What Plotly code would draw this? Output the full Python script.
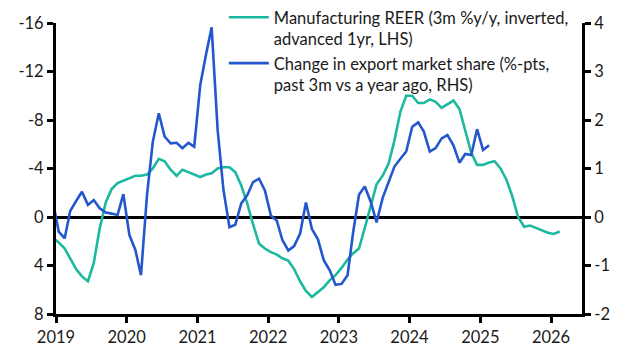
import pandas as pd
import plotly.graph_objects as go

# Monthly (mid-month) observations
reer_start = "2018-12-15"
reer_values = [
    1.7, 2.1, 2.6, 3.4, 4.3, 4.9, 5.3, 3.8, 0.9, -1.2, -2.3, -2.8, -3.0,
    -3.2, -3.4, -3.4, -3.5, -4.0, -4.8, -4.6, -3.9, -3.4, -3.9, -3.7, -3.5,
    -3.3, -3.5, -3.6, -4.0, -4.1, -4.1, -3.7, -2.6, -1.1, 0.6, 2.2, 2.6,
    2.9, 3.1, 3.4, 3.6, 4.3, 5.3, 6.1, 6.6, 6.2, 5.8, 5.2, 4.8, 4.2, 3.5,
    3.0, 2.6, 0.9, -1.0, -2.7, -3.4, -4.4, -6.3, -8.7, -10.0, -10.0, -9.4,
    -9.4, -9.7, -9.5, -9.0, -9.3, -9.6, -8.9, -7.1, -5.3, -4.3, -4.3, -4.5,
    -4.6, -4.0, -3.1, -1.7, 0.0, 0.8, 0.7, 0.9, 1.1, 1.3, 1.4, 1.2,
]

share_start = "2018-12-15"
share_values = [
    0.34, -0.3, -0.44, 0.12, 0.33, 0.52, 0.25, 0.35, 0.18, 0.09, 0.07, 0.04,
    0.47, -0.37, -0.68, -1.2, 0.45, 1.55, 2.14, 1.66, 1.52, 1.53, 1.42, 1.53,
    1.45, 2.72, 3.37, 3.91, 1.79, 0.56, -0.21, -0.16, 0.28, 0.45, 0.72, 0.79,
    0.55, 0.03, -0.08, -0.47, -0.69, -0.6, -0.34, 0.3, -0.25, -0.46, -0.89,
    -1.1, -1.4, -1.38, -1.2, -0.34, 0.46, 0.63, 0.31, -0.11, 0.39, 0.71,
    1.04, 1.2, 1.35, 1.86, 1.95, 1.76, 1.35, 1.42, 1.62, 1.69, 1.48, 1.12,
    1.3, 1.28, 1.81, 1.38, 1.48,
]

reer_name = "Manufacturing REER (3m %y/y, inverted,<br>advanced 1yr, LHS)"
share_name = "Change in export market share (%-pts,<br>past 3m vs a year ago, RHS)"

left_ticks = [-16, -12, -8, -4, 0, 4, 8]
left_labels = ["-16", "-12", "-8", "-4", "0", "4", "8"]
right_ticks = [-2, -1, 0, 1, 2, 3, 4]
right_labels = ["-2", "-1", "0", "1", "2", "3", "4"]
year_ticks = [f"{y}-01-01" for y in range(2019, 2027)]
year_labels = [str(y) for y in range(2019, 2027)]


def monthly_dates(start, n):
    return (pd.date_range(pd.Timestamp(start).replace(day=1), periods=n, freq="MS")
            + pd.Timedelta(days=14))


reer_dates = monthly_dates(reer_start, len(reer_values))
share_dates = monthly_dates(share_start, len(share_values))

TEAL = "#1db8a0"
BLUE = "#2456cc"
FONT = "Lato, 'Open Sans', sans-serif"
TXT = "#1a1a1a"
FS = 16.5

fig = go.Figure()
fig.add_trace(go.Scatter(
    x=reer_dates, y=reer_values, name=reer_name, mode="lines",
    line=dict(color=TEAL, width=2.6), yaxis="y",
))
fig.add_trace(go.Scatter(
    x=share_dates, y=share_values, name=share_name, mode="lines",
    line=dict(color=BLUE, width=2.6), yaxis="y2",
))

axis_common = dict(
    showgrid=False, showline=True, linecolor="black", linewidth=3,
    ticks="outside", ticklen=6, tickwidth=3, tickcolor="black",
    tickfont=dict(size=FS, color=TXT),
)

fig.update_layout(
    width=627, height=362,
    margin=dict(l=56, r=45, t=23, b=48, autoexpand=False),
    paper_bgcolor="white", plot_bgcolor="white",
    font=dict(family=FONT, size=FS, color=TXT),
    showlegend=True,
    legend=dict(
        xref="container", yref="container",
        x=0.357, y=1.0, xanchor="left", yanchor="top",
        bgcolor="rgba(0,0,0,0)", font=dict(size=FS, color=TXT),
        valign="top", tracegroupgap=0, itemwidth=40,
    ),
    xaxis=dict(
        type="date", range=["2019-01-01", "2026-06-10"],
        tickvals=year_ticks, ticktext=year_labels, zeroline=False,
        **axis_common,
    ),
    yaxis=dict(
        range=[8, -16], tickvals=left_ticks, ticktext=left_labels,
        zeroline=True, zerolinecolor="black", zerolinewidth=3,
        **axis_common,
    ),
    yaxis2=dict(
        range=[-2, 4], tickvals=right_ticks, ticktext=right_labels,
        overlaying="y", side="right", zeroline=False,
        **axis_common,
    ),
)

fig.write_html(
    "out.html",
    config={"displayModeBar": False},
    post_script="document.body.style.margin='0';document.body.style.overflow='hidden';",
)
